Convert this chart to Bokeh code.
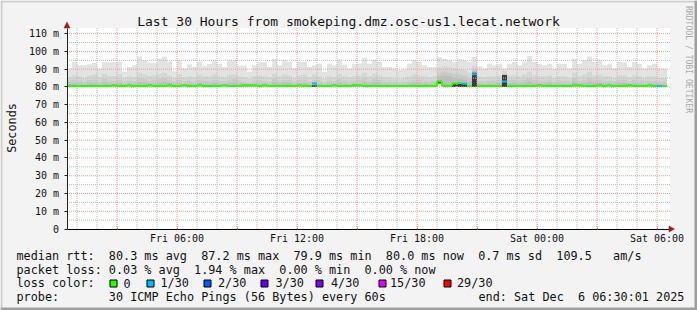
import math
from bokeh.plotting import figure
from bokeh.models import (Range1d, LinearAxis, FixedTicker, Label,
                          BoxAnnotation, PolyAnnotation, ColumnDataSource)
from bokeh.embed import file_html
from bokeh.resources import INLINE

# ---------------- data ----------------
TITLE = "Last 30 Hours from smokeping.dmz.osc-us1.lecat.network"
START_H = 0.5      # Fri 00:30 (hours since Fri 00:00)
END_H = 30.65      # right edge of the graph area
STEP_H = 0.25      # 15 minute consolidation step
Y_MAX = 113.2      # top of graph area (ms)

# max ping per step (ms)
top = [90.4, 94.4, 92.2, 92.2, 92.8, 93.5, 90.4, 94.1, 93.9, 93.9,
       94.4, 88.5, 91.3, 92.2, 97.2, 95.0, 93.7, 93.7, 96.0, 97.2,
       94.4, 88.9, 95.0, 90.4, 92.8, 91.3, 94.4, 91.9, 93.1, 94.4,
       93.1, 91.3, 95.0, 95.0, 92.0, 92.0, 88.5, 92.2, 93.9, 93.9,
       91.3, 95.9, 92.2, 95.0, 94.1, 90.4, 94.1, 94.1, 91.3, 92.2,
       93.1, 88.5, 93.1, 92.2, 95.4, 92.5, 90.4, 93.1, 93.1, 96.5,
       93.1, 95.4, 94.1, 91.3, 91.3, 90.4, 89.4, 90.0, 93.1, 95.0,
       94.1, 92.2, 91.3, 91.3, 96.9, 95.9, 95.0, 94.1, 95.6, 95.0,
       94.1, 96.9, 91.7, 90.4, 93.1, 92.2, 93.1, 90.4, 93.1, 94.1,
       92.2, 94.4, 97.4, 94.1, 93.1, 92.2, 93.1, 90.0, 93.1, 93.1,
       90.4, 95.9, 93.1, 95.0, 97.2, 94.1, 95.0, 92.2, 93.1, 90.4,
       94.1, 93.7, 91.3, 94.1, 93.1, 90.4, 92.2, 93.1, 90.4, 90.4]

# 29th of 30 sorted pings
p29 = [85.5, 86.5, 86.0, 85.0, 86.5, 87.0, 85.5, 87.5, 86.0, 86.0,
       87.0, 85.0, 86.0, 85.5, 88.0, 87.0, 86.0, 86.5, 87.5, 88.0,
       86.5, 85.0, 87.0, 85.5, 86.0, 85.5, 87.0, 86.0, 86.0, 87.0,
       86.0, 85.5, 87.0, 87.0, 86.0, 85.5, 84.5, 86.0, 86.5, 86.0,
       85.5, 87.5, 86.0, 87.0, 86.5, 85.0, 86.5, 87.0, 85.5, 87.0,
       86.0, 84.5, 86.0, 85.5, 87.5, 86.0, 85.5, 86.0, 86.5, 88.0,
       86.0, 87.5, 86.5, 85.5, 85.5, 85.0, 84.5, 85.0, 86.0, 87.0,
       86.5, 86.0, 85.5, 86.0, 91.0, 91.5, 91.0, 90.5, 90.0, 89.5,
       88.0, 92.0, 86.0, 85.5, 86.0, 86.0, 86.5, 89.0, 86.5, 86.5,
       86.0, 87.0, 88.5, 86.5, 86.0, 86.0, 86.5, 85.0, 86.0, 86.0,
       85.0, 88.0, 86.0, 87.0, 88.5, 86.5, 87.0, 86.0, 86.0, 85.0,
       86.5, 86.5, 85.5, 86.5, 86.0, 85.0, 86.0, 86.0, 85.0, 85.0]

# 28th of 30 sorted pings
p28 = [83.5, 84.0, 83.5, 83.0, 84.0, 84.0, 83.0, 84.5, 83.5, 83.5,
       84.0, 83.0, 83.5, 83.0, 85.0, 84.5, 83.5, 84.0, 84.5, 85.0,
       84.0, 83.0, 84.0, 83.0, 83.5, 83.0, 84.0, 83.5, 83.5, 84.0,
       83.5, 83.0, 84.0, 84.5, 83.5, 83.0, 82.5, 83.5, 84.0, 83.5,
       83.0, 84.5, 83.5, 84.0, 84.0, 83.0, 84.0, 84.0, 83.0, 84.0,
       83.5, 82.5, 83.5, 83.0, 84.5, 83.5, 83.0, 83.5, 84.0, 85.0,
       83.5, 84.5, 84.0, 83.0, 83.0, 83.0, 82.5, 83.0, 83.5, 84.0,
       84.0, 83.5, 83.0, 83.5, 88.0, 88.5, 88.0, 87.5, 87.0, 86.5,
       85.0, 90.0, 83.5, 83.0, 83.5, 83.5, 84.0, 87.5, 84.0, 84.0,
       83.5, 84.0, 85.0, 84.0, 83.5, 83.5, 84.0, 83.0, 83.5, 83.5,
       83.0, 85.0, 83.5, 84.0, 85.0, 84.0, 84.0, 83.5, 83.5, 83.0,
       84.0, 84.0, 83.0, 84.0, 83.5, 83.0, 83.5, 83.5, 83.0, 83.0]

# 27th of 30 sorted pings
p27 = [81.8, 82.2, 82.0, 81.5, 82.2, 82.0, 81.5, 82.5, 82.0, 81.8,
       82.2, 81.5, 81.8, 81.5, 82.8, 82.5, 82.0, 82.0, 82.5, 82.8,
       82.2, 81.5, 82.2, 81.5, 81.8, 81.5, 82.2, 81.8, 81.8, 82.2,
       81.8, 81.5, 82.2, 82.5, 81.8, 81.5, 81.2, 81.8, 82.0, 81.8,
       81.5, 82.5, 81.8, 82.2, 82.2, 81.5, 82.2, 82.2, 81.5, 82.5,
       81.8, 81.2, 81.8, 81.5, 82.5, 81.8, 81.5, 81.8, 82.0, 82.8,
       81.8, 82.5, 82.2, 81.5, 81.5, 81.5, 81.2, 81.5, 81.8, 82.2,
       82.2, 81.8, 81.5, 81.8, 86.0, 86.5, 86.0, 85.0, 84.5, 84.0,
       83.0, 89.0, 81.8, 81.5, 81.8, 81.8, 82.2, 87.0, 82.2, 82.2,
       81.8, 82.2, 83.0, 82.2, 81.8, 81.8, 82.2, 81.5, 81.8, 81.8,
       81.5, 83.0, 81.8, 82.2, 83.0, 82.2, 82.2, 81.8, 81.8, 81.5,
       82.2, 82.2, 81.5, 82.2, 81.8, 81.5, 81.8, 81.8, 81.5, 81.5]

# inner (darkest) band top
core = [80.0] * 74 + [83.0, 80.0, 80.0, 82.0, 82.2, 81.8, 80.0, 88.0,
                      80.0, 80.0, 80.0, 80.0, 80.0, 86.8] + [80.0] * 32

# min ping per step
lo = [80.0] * 49 + [81.0] + [80.0] * 24 + [82.0] + [80.0] * 45

# median rtt per step (ms)
median = [80.5, 80.5, 80.5, 80.5, 80.5, 80.5, 80.5, 80.5, 80.5, 80.9,
          80.5, 80.5, 80.9, 80.5, 80.5, 80.5, 80.9, 80.5, 80.5, 80.5,
          80.9, 80.5, 80.5, 80.9, 80.5, 80.5, 80.9, 80.5, 80.5, 80.5,
          80.5, 80.9, 80.5, 80.5, 80.5, 80.9, 80.9, 80.9, 80.5, 80.9,
          80.5, 80.5, 80.5, 80.5, 80.5, 80.5, 80.9, 80.5, 80.5, 82.0,
          80.5, 80.5, 80.5, 80.9, 80.5, 80.5, 80.5, 80.9, 80.9, 80.5,
          80.5, 80.5, 80.5, 80.5, 80.5, 80.5, 80.5, 80.5, 80.5, 80.5,
          80.5, 80.5, 80.5, 80.5, 83.2, 80.7, 80.7, 82.0, 82.2, 81.8,
          80.6, 87.2, 80.5, 80.5, 80.5, 80.5, 80.5, 83.0, 80.5, 80.5,
          80.5, 80.5, 80.5, 80.5, 80.9, 80.5, 80.5, 80.5, 80.5, 80.5,
          80.5, 80.9, 80.9, 80.5, 80.5, 80.5, 80.9, 80.5, 80.9, 80.5,
          80.5, 80.5, 80.9, 80.5, 80.5, 80.5, 80.9, 80.5, 80.5, 80.5]

# lost pings (of 30) per step
loss = ([0] * 49 + [1] + [0] * 29 + [1, 0, 1] + [0] * 5 + [1] + [0] * 30 + [1, 0])

LOSS_THRESH = [0, 1, 2, 3, 4, 15, 29]
LOSS_LABELS = ["0", "1/30", "2/30", "3/30", "4/30", "15/30", "29/30"]
LOSS_COLORS = ["#26ff00", "#00b8ff", "#0059ff", "#5e00ff", "#7e00ff", "#dd00ff", "#ff0000"]

X_LABEL_TICKS = [6, 12, 18, 24, 30]
X_LABELS = ["Fri 06:00", "Fri 12:00", "Fri 18:00", "Sat 00:00", "Sat 06:00"]
X_MAJOR = [3, 6, 9, 12, 15, 18, 21, 24, 27, 30]
X_MINOR = [h for h in range(1, 31) if h % 3 != 0]
Y_TICKS = [0, 10, 20, 30, 40, 50, 60, 70, 80, 90, 100, 110]
Y_LABELS = ["0", "10 m", "20 m", "30 m", "40 m", "50 m", "60 m", "70 m", "80 m", "90 m", "100 m", "110 m"]
Y_MINOR = [5, 15, 25, 35, 45, 55, 65, 75, 85, 95, 105]

LEG_MEDIAN = "median rtt:  80.3 ms avg  87.2 ms max  79.9 ms min  80.0 ms now  0.7 ms sd  109.5   am/s"
LEG_LOSS = "packet loss: 0.03 % avg  1.94 % max  0.00 % min  0.00 % now"
LEG_COLOR = "loss color:"
LEG_PROBE = "probe:       30 ICMP Echo Pings (56 Bytes) every 60s"
LEG_END = "end: Sat Dec  6 06:30:01 2025"

# ---------------- geometry (pixels) ----------------
MONO = "DejaVu Sans Mono"
W, H = 697, 310
X0_PX = 66.5        # pixel column of START_H
Y0_PX = 228.5       # pixel row of 0 ms
PX_PER_H = 20.0
PX_PER_MS = 201.0 / Y_MAX

x_range = Range1d(START_H - X0_PX / PX_PER_H, START_H + (W - X0_PX) / PX_PER_H)
y_range = Range1d(-(H - Y0_PX) / PX_PER_MS, Y0_PX / PX_PER_MS)

p = figure(width=W, height=H, output_backend="svg", toolbar_location=None,
           title=None, x_axis_type=None, y_axis_type=None,
           x_range=x_range, y_range=y_range,
           min_border=0, min_border_left=0, min_border_right=0,
           min_border_top=0, min_border_bottom=0,
           background_fill_color="#f3f3f3", border_fill_color="#f3f3f3",
           outline_line_color=None)

# white graph canvas
p.quad(left=[START_H], right=[END_H], bottom=[0], top=[Y_MAX],
       fill_color="white", line_color=None)

n = len(top)
left = [START_H + STEP_H * i for i in range(n)]
right = [l + STEP_H for l in left]

layers = [(top, "#e3e3e3"), (p29, "#d6d6d6"), (p28, "#cacaca"),
          (p27, "#bdbdbd"), (core, "#3c3c3c")]
for arr, col in layers:
    src = ColumnDataSource(dict(left=left, right=right, bottom=lo, top=arr))
    p.quad(left="left", right="right", bottom="bottom", top="top", source=src,
           fill_color=col, line_color=None)

def loss_color(v):
    c = LOSS_COLORS[0]
    for t, cc in zip(LOSS_THRESH, LOSS_COLORS):
        if v >= t:
            c = cc
    return c

mcol = [loss_color(v) for v in loss]

# grid (rrdtool draws it over the smoke)
GRID_MINOR = "#bdbdbd"
GRID_MAJOR = "#eba0a0"
p.segment(x0=X_MINOR, x1=X_MINOR, y0=[0] * len(X_MINOR), y1=[Y_MAX] * len(X_MINOR),
          line_color=GRID_MINOR, line_dash="1 1", line_width=1)
p.segment(x0=[START_H] * len(Y_MINOR), x1=[END_H] * len(Y_MINOR), y0=Y_MINOR, y1=Y_MINOR,
          line_color=GRID_MINOR, line_dash="1 1", line_width=1)
p.segment(x0=X_MAJOR, x1=X_MAJOR, y0=[0] * len(X_MAJOR), y1=[Y_MAX] * len(X_MAJOR),
          line_color=GRID_MAJOR, line_dash="1 1", line_width=1)
p.segment(x0=[START_H] * (len(Y_TICKS) - 1), x1=[END_H] * (len(Y_TICKS) - 1),
          y0=Y_TICKS[1:], y1=Y_TICKS[1:], line_color=GRID_MAJOR, line_dash="1 1", line_width=1)

# median line coloured by loss
p.segment(x0=left, x1=right, y0=median, y1=median, line_color=mcol, line_width=2)
vx, vy0, vy1, vc = [], [], [], []
for i in range(1, n):
    if mcol[i] == mcol[i - 1] and median[i] != median[i - 1]:
        vx.append(left[i]); vy0.append(median[i - 1]); vy1.append(median[i]); vc.append(mcol[i])
p.segment(x0=vx, x1=vx, y0=vy0, y1=vy1, line_color=vc, line_width=2)

# axes fixed at the graph origin
yaxis = LinearAxis(ticker=FixedTicker(ticks=Y_TICKS), fixed_location=START_H,
                   bounds=(0, Y_MAX),
                   major_label_overrides=dict(zip(Y_TICKS, Y_LABELS)),
                   axis_line_color="#222222", major_tick_line_color="#222222",
                   major_tick_in=0, major_tick_out=3, minor_tick_line_color=None,
                   major_label_text_font=MONO, major_label_text_font_size="10px",
                   major_label_text_color="#111111", major_label_standoff=5)
p.add_layout(yaxis, "left")

xaxis = LinearAxis(ticker=FixedTicker(ticks=X_MAJOR), fixed_location=0,
                   bounds=(START_H, END_H),
                   major_label_overrides={t: (X_LABELS[X_LABEL_TICKS.index(t)] if t in X_LABEL_TICKS else "") for t in X_MAJOR},
                   axis_line_color="#000000", major_tick_line_color="#e07070",
                   major_tick_in=2, major_tick_out=0, minor_tick_line_color=None,
                   major_label_text_font=MONO, major_label_text_font_size="10px",
                   major_label_text_color="#111111", major_label_standoff=4)
p.add_layout(xaxis, "below")

# axis arrows
ARROW = "#9b1c1c"
p.add_layout(PolyAnnotation(xs=[63.5, 66.5, 69.5], ys=[27.5, 21.5, 27.5], xs_units="canvas",
                            ys_units="canvas", fill_color=ARROW, fill_alpha=1,
                            line_color=ARROW, line_alpha=1, line_width=0.5))
p.add_layout(PolyAnnotation(xs=[668.5, 674, 668.5], ys=[225.5, 228.5, 231.5], xs_units="canvas",
                            ys_units="canvas", fill_color=ARROW, fill_alpha=1,
                            line_color=ARROW, line_alpha=1, line_width=0.5))

def nb(s):
    return s.replace(" ", "\u00a0")

def lab(x, y, text, size="11.8px", align="left", baseline="alphabetic", angle=0.0, color="#111111"):
    p.add_layout(Label(x=x, y=y, x_units="canvas", y_units="canvas", text=nb(text),
                       text_font=MONO, text_font_size=size, text_align=align,
                       text_baseline=baseline, angle=angle, text_color=color))

lab(348, 21, TITLE, size="13px", align="center")
lab(11, 127.5, "Seconds", align="center", baseline="middle", angle=math.pi / 2)
lab(688, 59, "RRDTOOL / TOBI OETIKER", size="8.1px", align="center", baseline="middle",
    angle=-math.pi / 2, color="#aaaaaa")
lab(16, 255, LEG_MEDIAN)
lab(16, 269, LEG_LOSS)
lab(16, 282.5, LEG_COLOR)
lab(16, 296, LEG_PROBE)
lab(478, 296, LEG_END)

SW_X = [109, 146, 203, 260, 315, 378, 443]
TX_X = [123, 160, 217.5, 275, 330.5, 389.5, 456.5]
for sx, tx, c, t in zip(SW_X, TX_X, LOSS_COLORS, LOSS_LABELS):
    p.add_layout(BoxAnnotation(left=sx + 0.5, right=sx + 7.5, top=279.5, bottom=286.5,
                               left_units="canvas", right_units="canvas",
                               top_units="canvas", bottom_units="canvas",
                               fill_color=c, fill_alpha=1, line_color="black",
                               line_alpha=1, line_width=1, level="overlay"))
    lab(tx, 282.5, t)

# image frame shading
for l_, r_, t_, b_, c in [(0, W, 0, 2, "#cfcfcf"), (0, 2, 0, H, "#cfcfcf"),
                          (0, W, H - 3, H, "#9e9e9e"), (W - 3, W, 0, H, "#9e9e9e")]:
    p.add_layout(BoxAnnotation(left=l_, right=r_, top=t_, bottom=b_,
                               left_units="canvas", right_units="canvas",
                               top_units="canvas", bottom_units="canvas",
                               fill_color=c, fill_alpha=1, line_color=None, level="overlay"))

open("out.html", "w").write(file_html(p, INLINE))
